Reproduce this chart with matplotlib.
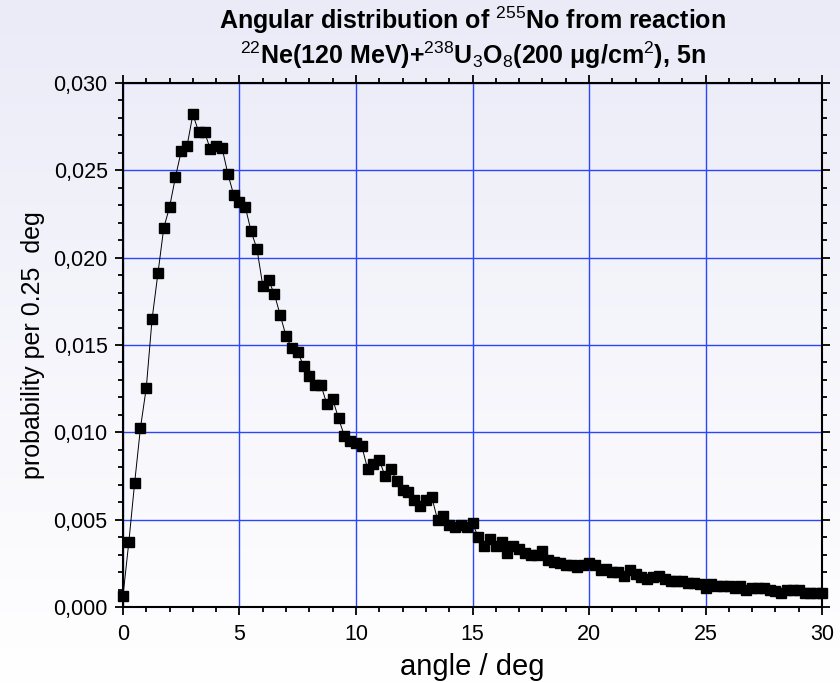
import matplotlib
matplotlib.use("Agg")
import matplotlib.pyplot as plt
from matplotlib.ticker import MultipleLocator, FuncFormatter
import numpy as np

# bin centres, 0.25 deg steps
angle = np.arange(0, 30.25, 0.25)

prob = [
    0.00062, 0.0037, 0.0071, 0.01025, 0.01255, 0.0165, 0.0191, 0.0217,
    0.0229, 0.0246, 0.0261, 0.0264, 0.0282, 0.0272, 0.0272, 0.0262,
    0.0264, 0.0263, 0.0248, 0.0236, 0.0232, 0.0229, 0.0215, 0.0205,
    0.0184, 0.0187, 0.0179, 0.0167, 0.0155, 0.0148, 0.0146, 0.0138,
    0.0132, 0.0127, 0.0127, 0.0116, 0.0119, 0.0108, 0.0098, 0.0095,
    0.0094, 0.0092, 0.0079, 0.0082, 0.0084, 0.0075, 0.0079, 0.0072,
    0.0067, 0.0066, 0.0061, 0.0058, 0.0061, 0.0063, 0.0050, 0.0052,
    0.0047, 0.0046, 0.0047, 0.0046, 0.0048, 0.0040, 0.0035, 0.0039,
    0.0035, 0.0037, 0.0031, 0.0035, 0.0033, 0.0031, 0.0030, 0.0030,
    0.0032, 0.0027, 0.0026, 0.0025, 0.0024, 0.0024, 0.0023, 0.0024,
    0.0025, 0.0024, 0.0021, 0.0022, 0.0020, 0.0020, 0.0018, 0.0021,
    0.0019, 0.0017, 0.0016, 0.0017, 0.0018, 0.0016, 0.0015, 0.0015,
    0.0015, 0.0014, 0.0014, 0.0013, 0.0011, 0.0013, 0.0012, 0.0012,
    0.0012, 0.0011, 0.0012, 0.0010, 0.0011, 0.0011, 0.0011, 0.0010,
    0.0009, 0.0008, 0.0010, 0.0010, 0.0010, 0.0008, 0.0008, 0.0008,
    0.0008,
]

title = ("Angular distribution of $^{255}$No from reaction\n"
         "$^{22}$Ne(120 MeV)+$^{238}$U$_3$O$_8$(200 μg/cm$^2$), 5n")
xlabel = "angle / deg"
ylabel = "probability per 0.25  deg"

plt.rcParams['font.family'] = ['Liberation Sans', 'DejaVu Sans']
plt.rcParams['mathtext.fontset'] = 'custom'
plt.rcParams['mathtext.rm'] = 'Liberation Sans'
plt.rcParams['mathtext.it'] = 'Liberation Sans:italic'
plt.rcParams['mathtext.bf'] = 'Liberation Sans:bold'

fig = plt.figure(figsize=(8.4, 6.83), dpi=100)

# light lavender gradient behind everything
bg = fig.add_axes([0, 0, 1, 1], zorder=-10)
grad = np.linspace(0, 1, 256).reshape(-1, 1)
bg.imshow(grad, aspect='auto', extent=[0, 1, 0, 1], origin='upper',
          cmap=matplotlib.colors.LinearSegmentedColormap.from_list(
              'bg', ['#ebebf8', '#ffffff']))
bg.axis('off')

ax = fig.add_axes([0.1464, 0.1113, 0.8322, 0.7672])
ax.set_facecolor('none')

ax.plot(angle, prob, color='black', lw=0.7, marker='s', markersize=7,
        markerfacecolor='black', markeredgecolor='black', clip_on=False, zorder=3)

ax.set_xlim(0, 30)
ax.set_ylim(0, 0.030)
ax.xaxis.set_major_locator(MultipleLocator(5))
ax.xaxis.set_minor_locator(MultipleLocator(1))
ax.yaxis.set_major_locator(MultipleLocator(0.005))
ax.yaxis.set_minor_locator(MultipleLocator(0.001))
ax.yaxis.set_major_formatter(FuncFormatter(lambda v, p: f"{v:.3f}".replace('.', ',')))

ax.grid(True, which='major', color='#2b45ff', lw=1.0)
ax.set_axisbelow(True)
ax.tick_params(which='both', direction='out', top=True, right=True,
               labelsize=15.5, width=1.3)
ax.tick_params(which='major', length=6)
ax.tick_params(which='minor', length=3.5)
ax.tick_params(axis='x', pad=6)
ax.tick_params(axis='y', pad=5)
for s in ax.spines.values():
    s.set_linewidth(1.5)

ax.set_xlabel(xlabel, fontsize=21, labelpad=6)
ax.set_ylabel(ylabel, fontsize=18, labelpad=6)
ax.set_title(title, fontsize=18, fontweight='bold', linespacing=1.12, pad=14)

plt.savefig('out.png', dpi=100)
